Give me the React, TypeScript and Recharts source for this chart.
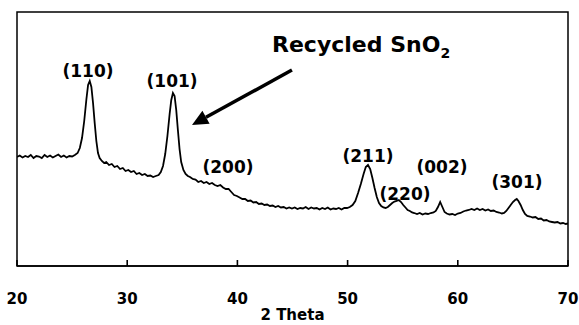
import { LineChart, Line, XAxis, YAxis, ReferenceDot, ReferenceLine, ReferenceArea } from 'recharts';

// XRD pattern of recycled SnO2 (intensity in a.u.)
const twoTheta = [
  20.0, 20.25, 20.5, 20.75, 21.0, 21.25, 21.5, 21.75, 22.0, 22.25, 22.5, 22.75, 23.0, 23.25, 23.5, 23.75,
  24.0, 24.25, 24.5, 24.75, 25.0, 25.25, 25.5, 25.7, 25.9, 26.1, 26.3, 26.45, 26.6, 26.75, 26.9, 27.05,
  27.2, 27.35, 27.5, 27.7, 27.9, 28.1, 28.35, 28.6, 28.85, 29.1, 29.35, 29.6, 29.85, 30.1, 30.35, 30.6,
  30.85, 31.1, 31.35, 31.6, 31.85, 32.1, 32.35, 32.6, 32.85, 33.05, 33.25, 33.45, 33.65, 33.85, 34.0, 34.15,
  34.3, 34.45, 34.6, 34.75, 34.9, 35.1, 35.3, 35.5, 35.7, 35.95, 36.2, 36.45, 36.7, 36.95, 37.2, 37.45,
  37.7, 37.95, 38.2, 38.45, 38.7, 38.95, 39.2, 39.45, 39.7, 39.95, 40.2, 40.45, 40.7, 40.95, 41.2, 41.45,
  41.7, 41.95, 42.2, 42.45, 42.7, 42.95, 43.2, 43.45, 43.7, 43.95, 44.2, 44.45, 44.7, 44.95, 45.2, 45.45,
  45.7, 45.95, 46.2, 46.45, 46.7, 46.95, 47.2, 47.45, 47.7, 47.95, 48.2, 48.45, 48.7, 48.95, 49.2, 49.45,
  49.7, 49.95, 50.2, 50.45, 50.7, 50.95, 51.2, 51.45, 51.65, 51.85, 52.05, 52.25, 52.45, 52.65, 52.85, 53.05,
  53.25, 53.45, 53.65, 53.85, 54.05, 54.25, 54.45, 54.65, 54.85, 55.05, 55.25, 55.45, 55.65, 55.85, 56.05, 56.3,
  56.55, 56.8, 57.05, 57.3, 57.55, 57.8, 58.0, 58.2, 58.4, 58.6, 58.8, 59.0, 59.25, 59.5, 59.75, 60.0,
  60.25, 60.5, 60.75, 61.0, 61.25, 61.5, 61.75, 62.0, 62.25, 62.5, 62.75, 63.0, 63.25, 63.5, 63.75, 64.0,
  64.2, 64.4, 64.6, 64.8, 65.0, 65.2, 65.35, 65.5, 65.7, 65.9, 66.1, 66.3, 66.55, 66.8, 67.05, 67.3,
  67.55, 67.8, 68.05, 68.3, 68.55, 68.8, 69.05, 69.3, 69.55, 69.8, 70.0,
];
const intensity = [
  109, 110.5, 108.5, 110, 109, 111, 108, 110, 109.5, 108, 111, 109, 110.5, 108.5, 110, 111.5,
  109, 110.5, 108.5, 110, 109.5, 111, 113, 118, 128, 145, 167, 181, 185, 179, 163, 143,
  125, 113, 108, 105, 103, 104, 101, 102, 99, 100, 97, 98, 95, 96, 94, 95,
  92, 93, 91, 92, 90, 90.5, 89, 90, 91, 94, 100, 112, 130, 152, 166, 173,
  170, 156, 136, 117, 104, 96, 92, 90, 89, 87, 86.5, 84, 85, 83, 84, 82,
  83, 81, 80, 81, 78.5, 77, 77, 74, 71, 70, 68.5, 67, 67, 65, 65.5, 63.5,
  64, 62, 62.5, 61, 61.5, 60, 60.5, 59, 60, 58.5, 59, 57.5, 58.5, 57.5, 58.5, 57,
  58, 57.5, 59, 57, 58.5, 57.5, 58, 56.5, 58, 57, 58.5, 56.5, 57.5, 57, 58, 56.5,
  58, 58, 59, 61, 65, 73, 82, 92, 99, 101, 97, 88, 78, 69, 63, 60,
  58.5, 58, 59, 61, 63, 64.5, 65, 66, 64, 61, 58.5, 56, 55, 53.5, 53, 52,
  53, 51.5, 52.5, 52, 53, 53.5, 55, 59, 64, 59, 54, 52.5, 51.5, 52, 51, 52.5,
  53, 54.5, 55.5, 56, 57, 56, 57.5, 56, 57, 55.5, 56.5, 55, 55.5, 54, 53.5, 52.5,
  53, 55, 58, 61, 64, 66, 67, 65, 61, 56, 52, 50, 49.5, 48.5, 49, 47,
  47.5, 45.5, 46, 44.5, 44, 43.5, 44, 42.5, 43, 42, 42.5,
];
const xDomain = [20, 70];
const yDomain = [0, 254];
const xTicks = [20, 30, 40, 50, 60, 70];

// peak labels: Miller index, label centre (2θ), label baseline (a.u.)
const peakNames = ['(110)', '(101)', '(200)', '(211)', '(220)', '(002)', '(301)'];
const peakLabelX = [26.44, 34.07, 39.15, 51.85, 55.21, 58.57, 65.37];
const peakLabelY = [189, 179, 93, 104, 66, 93, 78];

const data = twoTheta.map((t, i) => ({ t, v: intensity[i] }));

const FONT = "'DejaVu Sans', sans-serif";

const PeakLabel = ({ viewBox, text }: any) => (
  <text x={viewBox.x + viewBox.width / 2} y={viewBox.y + viewBox.height / 2} textAnchor="middle"
    fontFamily={FONT} fontWeight="bold" fontSize={17} fill="#000">
    {text}
  </text>
);

const TitleLabel = ({ viewBox }: any) => (
  <text x={viewBox.x} y={viewBox.y} fontFamily={FONT} fontWeight="bold" fontSize={22} fill="#000">
    Recycled SnO<tspan fontSize={14} dy={6}>2</tspan>
  </text>
);

const Arrow = (p: any) => {
  const { x1, y1, x2, y2 } = p;
  const a = Math.atan2(y2 - y1, x2 - x1);
  const len = 16, half = 7.5;
  const bx = x2 - len * Math.cos(a), by = y2 - len * Math.sin(a);
  const px = -Math.sin(a) * half, py = Math.cos(a) * half;
  return (
    <g>
      <line x1={x1} y1={y1} x2={bx} y2={by} stroke="#000" strokeWidth={3.5} />
      <polygon points={`${x2},${y2} ${bx + px},${by + py} ${bx - px},${by - py}`} fill="#000" />
    </g>
  );
};

// inward tick mark + bold label, drawn together
const TickMark = (p: any) => {
  const { x, y, payload } = p;
  const axisY = y - 27;
  return (
    <g>
      <line x1={x} y1={axisY} x2={x} y2={axisY - 6} stroke="#000" strokeWidth={1.6} />
      <text x={x} y={y} dy="0.71em" textAnchor="middle" fill="#000" fontSize={15} fontWeight="bold" fontFamily={FONT}>
        {payload.value}
      </text>
    </g>
  );
};

export default function App() {
  return (
    <div style={{ position: 'absolute', left: 0, top: 0, background: '#fff' }}>
      <LineChart width={579} height={325} data={data} margin={{ top: 12, right: 11, bottom: 0, left: 17 }}>
        {/* plot frame */}
        <ReferenceArea x1={xDomain[0]} x2={xDomain[1]} y1={yDomain[0]} y2={yDomain[1]} ifOverflow="visible"
          fill="none" stroke="#000" strokeWidth={1.5} />
        <XAxis dataKey="t" type="number" domain={xDomain} ticks={xTicks} allowDataOverflow
          height={59} tickSize={0} tickMargin={27}
          axisLine={{ stroke: '#000', strokeWidth: 1.5 }} tickLine={false}
          tick={<TickMark />}
          label={{ value: '2 Theta', position: 'insideBottom', offset: 5, fill: '#000', fontSize: 15, fontWeight: 'bold', fontFamily: FONT }} />
        <YAxis domain={yDomain} hide allowDataOverflow />
        <Line dataKey="v" type="linear" stroke="#000" strokeWidth={1.8} dot={false} isAnimationActive={false} />
        {peakNames.map((n, i) => (
          <ReferenceDot key={n} x={peakLabelX[i]} y={peakLabelY[i]} r={0} fill="none" stroke="none"
            label={<PeakLabel text={n} />} />
        ))}
        <ReferenceDot x={43.14} y={214} r={0} fill="none" stroke="none" label={<TitleLabel />} />
        <ReferenceLine segment={[{ x: 44.95, y: 196 }, { x: 35.88, y: 141 }]} shape={<Arrow />} />
      </LineChart>
    </div>
  );
}
